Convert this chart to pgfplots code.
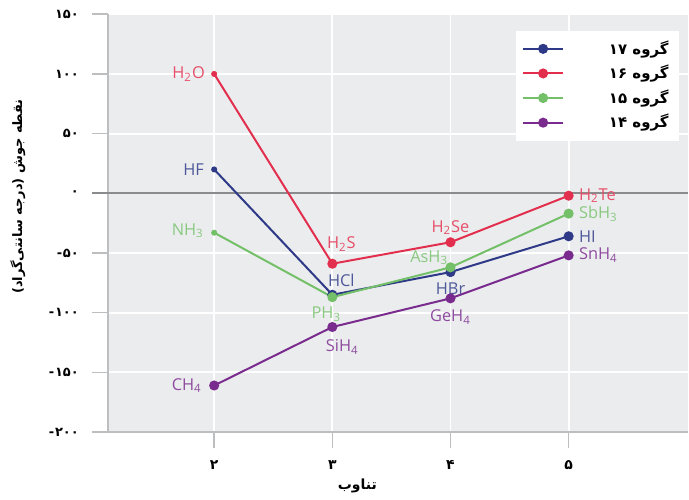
\documentclass[border=0pt]{standalone}
\usepackage{fontspec}
\usepackage{pgfplots}
\pgfplotsset{compat=1.18}
\setmainfont{Open Sans}
\newfontfamily\fa[Script=Arabic]{DejaVu Sans}
\TeXXeTstate=1

\definecolor{bg}{HTML}{EBECEE}
\definecolor{axisgray}{HTML}{BDBEC0}
\definecolor{zerogray}{HTML}{8A8B8D}
\definecolor{c17}{HTML}{2E3A87}
\definecolor{c16}{HTML}{E32F4E}
\definecolor{c15}{HTML}{74C069}
\definecolor{c14}{HTML}{7A2B8E}

\tikzset{lab/.style={font=\fontsize{8.2}{9}\selectfont, inner sep=0pt}}

\begin{document}
\begin{tikzpicture}
\begin{axis}[
  scale only axis,
  width=290.5pt, height=209.2pt,
  xmin=1.1, xmax=6.01,
  ymin=-200, ymax=150,
  axis x line*=bottom, axis y line*=left,
  axis line style={draw=axisgray, line width=1pt, -},
  axis background/.style={fill=bg},
  grid=major,
  major grid style={white, line width=0.9pt},
  xtick={2,3,4,5},
  xticklabels={۲,۳,۴,۵},
  ytick={-200,-150,...,150},
  yticklabels={-\kern0.4pt۲۰۰,-\kern0.4pt۱۵۰,-\kern0.4pt۱۰۰,-\kern0.4pt۵۰,۰,۵۰,۱۰۰,۱۵۰},
  tick align=outside,
  major tick length=8pt,
  tick style={axisgray, line width=0.8pt},
  xticklabel style={font=\fa\bfseries\fontsize{7}{8}\selectfont, anchor=center, yshift=-8.5pt},
  yticklabel style={font=\fa\bfseries\fontsize{6.5}{7}\selectfont, anchor=east, xshift=-3pt},
  xlabel={\fa\bfseries\beginR تناوب\endR},
  xlabel style={font=\fontsize{7}{8}\selectfont, at={(axis description cs:0.43,-0.129)}, anchor=center},
  ylabel={\fa\bfseries\beginR نقطه جوش (درجه سانتی‌گراد)\endR},
  ylabel style={font=\fontsize{6.5}{8}\selectfont, at={(axis description cs:-0.155,0.564)}, anchor=center},
  clip=false,
  legend style={at={(axis description cs:0.9845,0.962)}, anchor=north east,
    draw=none, fill=white, font=\fa\bfseries\fontsize{7.5}{8}\selectfont,
    inner xsep=3pt, inner ysep=3pt, row sep=0pt},
  legend cell align=right,
  legend image code/.code={\draw[#1, mark indices={2}] plot coordinates {(0cm,0cm)(0.35cm,0cm)(0.7cm,0cm)};},
]

\draw[zerogray, line width=0.9pt] ([xshift=-8pt]axis cs:1.1,0) -- (axis cs:6.01,0);

\addplot[c17, line width=1pt, mark=*, mark size=2pt, mark indices={2,3,4}]
  coordinates {(2,20)(3,-85)(4,-66)(5,-36)};
\addlegendentry{\hspace{20.5pt}\beginR گروه \beginL۱۷\endL\endR}
\addplot[c16, line width=1pt, mark=*, mark size=2pt, mark indices={2,3,4}]
  coordinates {(2,100)(3,-59)(4,-41)(5,-2)};
\addlegendentry{\hspace{20.5pt}\beginR گروه \beginL۱۶\endL\endR}
\addplot[c15, line width=1pt, mark=*, mark size=2pt, mark indices={2,3,4}]
  coordinates {(2,-33)(3,-87)(4,-62)(5,-17)};
\addlegendentry{\hspace{20.5pt}\beginR گروه \beginL۱۵\endL\endR}
\addplot[c14, line width=1pt, mark=*, mark size=2pt]
  coordinates {(2,-161)(3,-112)(4,-88)(5,-52)};
\addlegendentry{\hspace{20.5pt}\beginR گروه \beginL۱۴\endL\endR}

\addplot[c17, only marks, mark=*, mark size=1.3pt, forget plot] coordinates {(2,20)};
\addplot[c16, only marks, mark=*, mark size=1.3pt, forget plot] coordinates {(2,100)};
\addplot[c15, only marks, mark=*, mark size=1.3pt, forget plot] coordinates {(2,-33)};

% period 2
\node[lab, c16!85!white, anchor=east, xshift=-4.5pt] at (axis cs:2,100) {H\textsubscript{2}O};
\node[lab, c17!85!white, anchor=east, xshift=-5pt] at (axis cs:2,20) {HF};
\node[lab, c15!85!white, anchor=east, xshift=-5pt, yshift=1pt] at (axis cs:2,-33) {NH\textsubscript{3}};
\node[lab, c14!85!white, anchor=east, xshift=-6pt] at (axis cs:2,-161) {CH\textsubscript{4}};
% period 3
\node[lab, c16!85!white, anchor=south, xshift=4.5pt, yshift=6pt] at (axis cs:3,-59) {H\textsubscript{2}S};
\node[lab, c17!85!white, anchor=south, xshift=4.5pt, yshift=4pt] at (axis cs:3,-85) {HCl};
\node[lab, c15!85!white, anchor=north, xshift=-3pt, yshift=-4.5pt] at (axis cs:3,-87) {PH\textsubscript{3}};
\node[lab, c14!85!white, anchor=north, xshift=5pt, yshift=-6pt] at (axis cs:3,-112) {SiH\textsubscript{4}};
% period 4
\node[lab, c16!85!white, anchor=south, yshift=3.5pt] at (axis cs:4,-41) {H\textsubscript{2}Se};
\node[lab, c15!85!white, anchor=south east, xshift=-1pt, yshift=1pt] at (axis cs:4,-62) {AsH\textsubscript{3}};
\node[lab, c17!85!white, anchor=north, yshift=-5pt] at (axis cs:4,-66) {HBr};
\node[lab, c14!85!white, anchor=north, yshift=-5.5pt] at (axis cs:4,-88) {GeH\textsubscript{4}};
% period 5
\node[lab, c16!85!white, anchor=west, xshift=5pt] at (axis cs:5,-2) {H\textsubscript{2}Te};
\node[lab, c15!85!white, anchor=west, xshift=5pt] at (axis cs:5,-17) {SbH\textsubscript{3}};
\node[lab, c17!85!white, anchor=west, xshift=5pt] at (axis cs:5,-36) {HI};
\node[lab, c14!85!white, anchor=west, xshift=5pt] at (axis cs:5,-52) {SnH\textsubscript{4}};
\end{axis}
\path ([xshift=-54pt,yshift=-33.65pt]current axis.south west) rectangle ([yshift=7.15pt]current axis.north east);
\end{tikzpicture}
\end{document}
